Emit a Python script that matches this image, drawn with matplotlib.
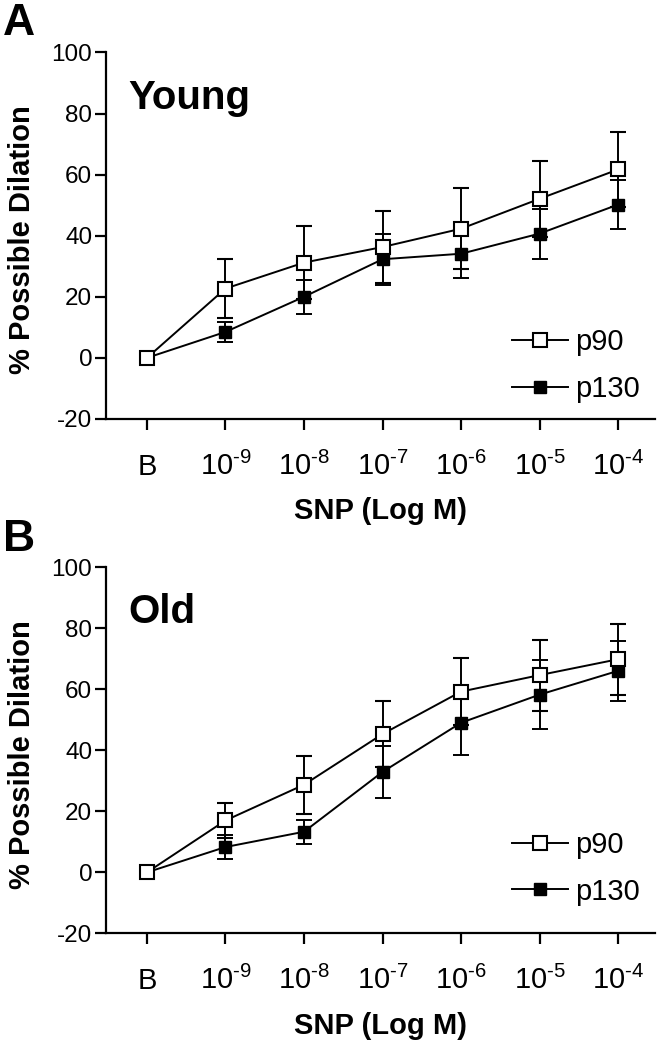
import numpy as np
import matplotlib
matplotlib.use("Agg")
import matplotlib.pyplot as plt
from matplotlib.lines import Line2D

plt.rcParams['font.family'] = ['Liberation Sans', 'DejaVu Sans']
plt.rcParams['mathtext.fontset'] = 'custom'
plt.rcParams['mathtext.rm'] = 'Liberation Sans'
plt.rcParams['mathtext.default'] = 'rm'
plt.rcParams['axes.unicode_minus'] = False

# x categories (hyphen in the exponent, like the original)
doses = ['B', '10$^{\u20109}$', '10$^{\u20108}$', '10$^{\u20107}$',
         '10$^{\u20106}$', '10$^{\u20105}$', '10$^{\u20104}$']

# Panel A - Young
young_p90 = [0, 22.7, 31.2, 36.3, 42.3, 52.1, 61.7]
young_p90_err = [0, 9.8, 12.0, 11.8, 13.3, 12.4, 12.2]
young_p130 = [0, 8.5, 20.0, 32.3, 34.1, 40.7, 50.2]
young_p130_err = [0, 3.3, 5.6, 8.3, 7.8, 8.2, 7.9]

# Panel B - Old
old_p90 = [0, 17.0, 28.7, 45.3, 59.2, 64.6, 69.8]
old_p90_err = [0, 5.8, 9.5, 10.8, 11.0, 11.6, 11.6]
old_p130 = [0, 8.3, 13.3, 32.9, 49.0, 58.2, 66.0]
old_p130_err = [0, 4.0, 4.0, 8.4, 10.6, 11.2, 9.8]

fig = plt.figure(figsize=(6.59, 10.5), dpi=100)


def draw_panel(rect, p90, p90e, p130, p130e, title, letter, letter_y, leg_y):
    ax = fig.add_axes(rect)
    x = np.arange(len(doses))
    ax.errorbar(x, p130, yerr=p130e, color='black', lw=1.4, marker='s', ms=9,
                mfc='black', mec='black', capsize=6, capthick=1.4, elinewidth=1.4,
                zorder=2)
    ax.errorbar(x, p90, yerr=p90e, color='black', lw=1.4, marker='s', ms=10,
                mfc='white', mec='black', mew=1.5, capsize=6, capthick=1.4,
                elinewidth=1.4, zorder=3)
    ax.set_xlim(-0.52, 6.47)
    ax.set_ylim(-20, 100)
    ax.set_yticks([-20, 0, 20, 40, 60, 80, 100])
    ax.set_xticks(x)
    ax.set_xticklabels(doses)
    for s in ['top', 'right']:
        ax.spines[s].set_visible(False)
    for s in ['left', 'bottom']:
        ax.spines[s].set_linewidth(1.6)
    ax.tick_params(axis='y', direction='out', length=8, width=1.6, labelsize=17.5, pad=2)
    ax.tick_params(axis='x', direction='out', length=8, width=1.6, labelsize=21, pad=32)
    for lbl in ax.get_xticklabels():
        lbl.set_va('baseline')
    ax.set_ylabel('% Possible Dilation', fontsize=21, fontweight='bold')
    ax.yaxis.set_label_coords(-0.128, 0.488)
    ax.set_xlabel('SNP (Log M)', fontsize=21, fontweight='bold', labelpad=12)
    ax.text(0.04, 0.877, title, transform=ax.transAxes, fontsize=29,
            fontweight='bold', va='center', ha='left')
    handles = [
        Line2D([], [], color='black', lw=1.4, marker='s', ms=10, mfc='white',
               mec='black', mew=1.5),
        Line2D([], [], color='black', lw=1.4, marker='s', ms=9, mfc='black',
               mec='black'),
    ]
    ax.legend(handles, ['p90', 'p130'], loc='center left',
              bbox_to_anchor=(0.74, leg_y), frameon=False, fontsize=21,
              handlelength=1.9, handletextpad=0.25, labelspacing=0.65,
              borderpad=0, borderaxespad=0)
    fig.text(0.004, letter_y, letter, fontsize=32, fontweight='bold',
             va='top', ha='left')
    return ax


draw_panel([0.161, 0.601, 0.833, 0.349], young_p90, young_p90_err,
           young_p130, young_p130_err, 'Young', 'A', 0.997, 0.146)
draw_panel([0.161, 0.111, 0.833, 0.349], old_p90, old_p90_err,
           old_p130, old_p130_err, 'Old', 'B', 0.506, 0.178)

fig.savefig('out.png', dpi=100)
